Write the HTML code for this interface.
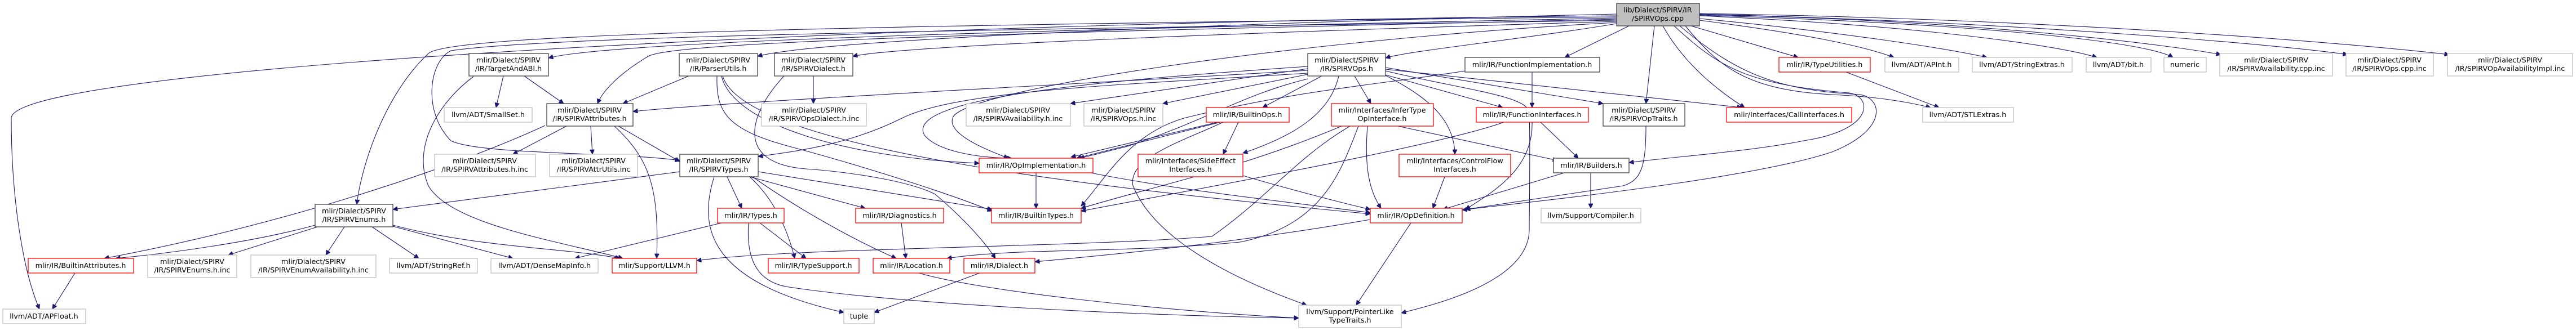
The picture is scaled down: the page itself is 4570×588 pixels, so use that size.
<!DOCTYPE html>
<html><head><meta charset="utf-8"><style>
html,body{margin:0;padding:0;background:#fff;}
svg{display:block;}
text{font-family:"DejaVu Sans","Liberation Sans",sans-serif;font-size:12.7px;fill:#000;text-anchor:middle;}
.e{fill:none;stroke:#191970;stroke-width:1.1;marker-end:url(#a);}
.k{fill:#fff;stroke:#404040;stroke-width:1.3;}
.r{fill:#fff;stroke:#ff0000;stroke-width:1.3;}
.g{fill:#fff;stroke:#bfbfbf;stroke-width:1.3;}
.s{fill:#bfbfbf;stroke:#404040;stroke-width:1.3;}
</style></head><body>
<svg width="4570" height="588" viewBox="0 0 4570 588" xmlns="http://www.w3.org/2000/svg">
<defs><marker id="a" viewBox="0 0 10 10" refX="10" refY="5" markerWidth="10" markerHeight="8" markerUnits="userSpaceOnUse" orient="auto"><path d="M0,0 L10,5 L0,10 z" fill="#191970" stroke="#191970"/></marker></defs>

<!-- edges from SPIRVOps.cpp -->
<path class="e" d="M2868,28 C1500,40 20,120 20,210 C20,350 40,480 70,549"/>
<path class="e" d="M2868,30 C1500,45 800,60 760,95 C680,170 640,300 633,363"/>
<path class="e" d="M2868,32 C2000,50 1100,70 973,103"/>
<path class="e" d="M2868,34 C2000,55 1200,70 1150,100 C1100,130 1070,160 1060,184"/>
<path class="e" d="M2868,36 C2000,50 1000,60 800,90 C760,110 750,200 800,250 C850,275 1100,270 1206,285"/>
<path class="e" d="M2868,25 C2200,40 1450,70 1344,100"/>
<path class="e" d="M2868,38 C2300,55 1600,80 1513,100"/>
<path class="e" d="M2868,40 C2300,70 1700,160 1690,210 C1680,240 1760,270 1789,281"/>
<path class="e" d="M2868,42 C2700,70 2500,90 2458,103"/>
<path class="e" d="M2890,46 L2776,102"/>
<path class="e" d="M2935,46 L2920,184"/>
<path class="e" d="M2950,46 C2980,100 3030,150 3095,191"/>
<path class="e" d="M2970,46 C3050,120 3100,150 3280,165 C3320,170 3330,230 3200,250 C3100,270 2950,280 2890,289"/>
<path class="e" d="M2980,46 C3080,130 3150,160 3300,168 C3340,175 3350,230 3250,270 C3100,320 2700,360 2594,373"/>
<path class="e" d="M2990,46 C3050,120 3100,160 3250,168 C3330,172 3380,180 3425,191"/>
<path class="e" d="M3000,46 L3190,102"/>
<path class="e" d="M3015,36 C3200,60 3300,80 3360,102"/>
<path class="e" d="M3015,33 C3250,55 3450,85 3525,102"/>
<path class="e" d="M3015,28 C3400,45 3650,80 3720,102"/>
<path class="e" d="M3015,27 C3450,40 3800,70 3855,102"/>
<path class="e" d="M3015,26 C3500,35 3850,80 3940,97"/>
<path class="e" d="M3015,25 C3600,40 4050,80 4165,97"/>
<path class="e" d="M3015,24 C3700,35 4200,80 4345,97"/>

<!-- SPIRVOps.h -->
<path class="e" d="M2320,125 C1900,150 1300,180 1123,198"/>
<path class="e" d="M2320,130 C2000,150 1700,160 1600,210 C1500,260 1400,270 1345,278"/>
<path class="e" d="M2320,118 C2000,140 1600,170 1640,240 C1660,265 1720,280 1795,281"/>
<path class="e" d="M2320,140 C2200,170 2150,210 2000,260 C1960,270 1930,278 1915,281"/>
<path class="e" d="M2320,122 L1899,184"/>
<path class="e" d="M2320,132 L2063,184"/>
<path class="e" d="M2345,135 L2240,191"/>
<path class="e" d="M2375,135 C2360,200 2300,240 2205,272"/>
<path class="e" d="M2403,135 L2432,184"/>
<path class="e" d="M2458,133 L2666,191"/>
<path class="e" d="M2458,120 L2844,184"/>
<path class="e" d="M2458,123 L3090,191"/>
<path class="e" d="M2450,130 C2530,170 2580,210 2581,274"/>
<path class="e" d="M2458,126 C2600,160 2710,170 2713,200 C2715,260 2713,380 2713,410 C2710,500 2550,540 2486,556"/>

<!-- TargetAndABI -->
<path class="e" d="M893,135 L880,191"/>
<path class="e" d="M930,135 L1000,184"/>
<path class="e" d="M840,136 C780,180 730,260 760,330 C800,400 1000,430 1105,459"/>
<!-- SPIRVAttributes -->
<path class="e" d="M967,223 C800,300 500,400 185,459"/>
<path class="e" d="M1005,224 L910,274"/>
<path class="e" d="M1048,224 L1051,274"/>
<path class="e" d="M1097,224 L1206,287"/>
<path class="e" d="M1090,224 C1150,280 1170,330 1165,459"/>
<!-- ParserUtils -->
<path class="e" d="M1222,135 L1105,184"/>
<path class="e" d="M1280,135 C1300,220 1500,280 1737,290"/>
<path class="e" d="M1272,135 C1270,200 1290,230 1400,260 C1550,300 1700,350 1760,375"/>
<path class="e" d="M1282,135 C1320,260 1900,330 2431,380"/>
<!-- SPIRVDialect -->
<path class="e" d="M1443,135 L1443,184"/>
<path class="e" d="M1391,135 C1330,200 1300,290 1430,300 C1500,305 1610,320 1659,345 C1700,380 1740,420 1766,459"/>
<!-- SPIRVTypes -->
<path class="e" d="M1206,305 L697,372"/>
<path class="e" d="M1290,314 L1316,370"/>
<path class="e" d="M1330,314 L1535,370"/>
<path class="e" d="M1345,305 L1760,372"/>
<path class="e" d="M1330,314 C1380,360 1400,420 1410,459"/>
<path class="e" d="M1335,314 C1400,360 1500,420 1590,459"/>
<path class="e" d="M1267,314 C1240,400 1250,500 1497,555"/>
<!-- SPIRVEnums -->
<path class="e" d="M559,400 C450,430 300,450 205,459"/>
<path class="e" d="M563,403 L405,453"/>
<path class="e" d="M611,403 L578,453"/>
<path class="e" d="M660,403 L743,459"/>
<path class="e" d="M697,402 L910,459"/>
<path class="e" d="M697,400 C850,440 1000,440 1100,459"/>
<path class="e" d="M133,485 L93,549"/>
<!-- Types.h -->
<path class="e" d="M1280,396 L1020,459"/>
<path class="e" d="M1348,396 L1430,459"/>
<path class="e" d="M1328,396 C1325,440 1330,500 1400,510 C1600,540 2000,560 2304,565"/>
<path class="e" d="M1599,396 L1607,459"/>
<!-- OpImplementation -->
<path class="e" d="M1838,307 L1838,370"/>
<path class="e" d="M1935,307 C2100,340 2300,360 2431,378"/>
<!-- BuiltinOps -->
<path class="e" d="M2165,217 L1910,281"/>
<path class="e" d="M2160,217 L1900,279"/>
<path class="e" d="M2197,217 L2170,274"/>
<path class="e" d="M2170,217 C2100,250 2000,280 2010,330 C2050,430 2200,500 2318,542"/>
<!-- SideEffect -->
<path class="e" d="M2205,312 C2300,340 2400,365 2431,372"/>
<!-- InferType -->
<path class="e" d="M2380,224 C2200,300 2050,330 1918,370"/>
<path class="e" d="M2426,224 C2420,300 2430,340 2450,370"/>
<path class="e" d="M2410,224 C2380,300 2350,400 2200,430 C2000,450 1800,440 1680,459"/>
<path class="e" d="M2395,224 C2300,280 2250,350 2150,420 C1900,440 1400,440 1236,463"/>
<path class="e" d="M2480,224 L2763,285"/>
<!-- FunctionInterfaces -->
<path class="e" d="M2668,217 C2550,260 2100,340 1918,375"/>
<path class="e" d="M2718,217 C2720,300 2650,340 2600,372"/>
<path class="e" d="M2733,217 L2800,281"/>
<path class="e" d="M2718,128 L2718,191"/>
<path class="e" d="M2599,126 C2450,150 2300,160 2100,210 C2000,240 1960,320 1918,366"/>
<!-- misc -->
<path class="e" d="M2563,314 L2542,370"/>
<path class="e" d="M2775,307 L2560,372"/>
<path class="e" d="M2822,307 L2822,370"/>
<path class="e" d="M2920,224 C2920,300 2910,320 2880,330 C2750,350 2650,365 2600,372"/>
<path class="e" d="M3275,128 L3440,191"/>
<path class="e" d="M2503,396 L2406,542"/>
<path class="e" d="M2431,390 C2200,430 2000,450 1836,465"/>
<path class="e" d="M1630,485 C1750,520 2100,555 2304,565"/>
<path class="e" d="M1738,485 L1551,555"/>

<!-- nodes -->
<rect class="s" x="2868" y="6" width="147" height="40"/><text x="2941" y="22">lib/Dialect/SPIRV/IR</text><text x="2941" y="37">/SPIRVOps.cpp</text>

<rect class="k" x="832" y="95" width="141" height="40"/><text x="902" y="111">mlir/Dialect/SPIRV</text><text x="902" y="126">/IR/TargetAndABI.h</text>
<rect class="k" x="1205" y="95" width="139" height="40"/><text x="1274" y="111">mlir/Dialect/SPIRV</text><text x="1274" y="126">/IR/ParserUtils.h</text>
<rect class="k" x="1374" y="95" width="139" height="40"/><text x="1443" y="111">mlir/Dialect/SPIRV</text><text x="1443" y="126">/IR/SPIRVDialect.h</text>
<rect class="k" x="2320" y="95" width="138" height="40"/><text x="2389" y="111">mlir/Dialect/SPIRV</text><text x="2389" y="126">/IR/SPIRVOps.h</text>
<rect class="k" x="2599" y="102" width="239" height="26"/><text x="2718" y="119">mlir/IR/FunctionImplementation.h</text>
<rect class="r" x="3156" y="102" width="162" height="26"/><text x="3237" y="119">mlir/IR/TypeUtilities.h</text>
<rect class="g" x="3344" y="102" width="131" height="26"/><text x="3409" y="119">llvm/ADT/APInt.h</text>
<rect class="g" x="3499" y="102" width="177" height="26"/><text x="3587" y="119">llvm/ADT/StringExtras.h</text>
<rect class="g" x="3701" y="102" width="115" height="26"/><text x="3758" y="119">llvm/ADT/bit.h</text>
<rect class="g" x="3839" y="102" width="75" height="26"/><text x="3876" y="119">numeric</text>
<rect class="g" x="3938" y="95" width="200" height="40"/><text x="4038" y="111">mlir/Dialect/SPIRV</text><text x="4038" y="126">/IR/SPIRVAvailability.cpp.inc</text>
<rect class="g" x="4162" y="95" width="155" height="40"/><text x="4239" y="111">mlir/Dialect/SPIRV</text><text x="4239" y="126">/IR/SPIRVOps.cpp.inc</text>
<rect class="g" x="4342" y="95" width="222" height="40"/><text x="4453" y="111">mlir/Dialect/SPIRV</text><text x="4453" y="126">/IR/SPIRVOpAvailabilityImpl.inc</text>

<rect class="g" x="788" y="191" width="156" height="26"/><text x="866" y="208">llvm/ADT/SmallSet.h</text>
<rect class="k" x="970" y="184" width="153" height="40"/><text x="1046" y="200">mlir/Dialect/SPIRV</text><text x="1046" y="215">/IR/SPIRVAttributes.h</text>
<rect class="g" x="1351" y="184" width="186" height="40"/><text x="1444" y="200">mlir/Dialect/SPIRV</text><text x="1444" y="215">/IR/SPIRVOpsDialect.h.inc</text>
<rect class="g" x="1714" y="184" width="185" height="40"/><text x="1806" y="200">mlir/Dialect/SPIRV</text><text x="1806" y="215">/IR/SPIRVAvailability.h.inc</text>
<rect class="g" x="1923" y="184" width="140" height="40"/><text x="1993" y="200">mlir/Dialect/SPIRV</text><text x="1993" y="215">/IR/SPIRVOps.h.inc</text>
<rect class="r" x="2140" y="191" width="147" height="26"/><text x="2213" y="208">mlir/IR/BuiltinOps.h</text>
<rect class="r" x="2362" y="184" width="181" height="40"/><text x="2452" y="200">mlir/Interfaces/InferType</text><text x="2452" y="215">OpInterface.h</text>
<rect class="r" x="2619" y="191" width="199" height="26"/><text x="2718" y="208">mlir/IR/FunctionInterfaces.h</text>
<rect class="k" x="2844" y="184" width="145" height="40"/><text x="2916" y="200">mlir/Dialect/SPIRV</text><text x="2916" y="215">/IR/SPIRVOpTraits.h</text>
<rect class="r" x="3063" y="191" width="222" height="26"/><text x="3174" y="208">mlir/Interfaces/CallInterfaces.h</text>
<rect class="g" x="3411" y="191" width="161" height="26"/><text x="3491" y="208">llvm/ADT/STLExtras.h</text>

<rect class="g" x="771" y="274" width="179" height="40"/><text x="860" y="290">mlir/Dialect/SPIRV</text><text x="860" y="305">/IR/SPIRVAttributes.h.inc</text>
<rect class="g" x="975" y="274" width="156" height="40"/><text x="1053" y="290">mlir/Dialect/SPIRV</text><text x="1053" y="305">/IR/SPIRVAttrUtils.inc</text>
<rect class="k" x="1206" y="274" width="139" height="40"/><text x="1275" y="290">mlir/Dialect/SPIRV</text><text x="1275" y="305">/IR/SPIRVTypes.h</text>
<rect class="r" x="1737" y="281" width="202" height="26"/><text x="1838" y="298">mlir/IR/OpImplementation.h</text>
<rect class="r" x="2019" y="274" width="186" height="40"/><text x="2112" y="290">mlir/Interfaces/SideEffect</text><text x="2112" y="305">Interfaces.h</text>
<rect class="r" x="2482" y="274" width="198" height="40"/><text x="2581" y="290">mlir/Interfaces/ControlFlow</text><text x="2581" y="305">Interfaces.h</text>
<rect class="k" x="2756" y="281" width="134" height="26"/><text x="2823" y="298">mlir/IR/Builders.h</text>

<rect class="k" x="559" y="363" width="138" height="40"/><text x="628" y="379">mlir/Dialect/SPIRV</text><text x="628" y="394">/IR/SPIRVEnums.h</text>
<rect class="r" x="1273" y="370" width="118" height="26"/><text x="1332" y="387">mlir/IR/Types.h</text>
<rect class="r" x="1518" y="370" width="156" height="26"/><text x="1596" y="387">mlir/IR/Diagnostics.h</text>
<rect class="r" x="1759" y="370" width="159" height="26"/><text x="1838" y="387">mlir/IR/BuiltinTypes.h</text>
<rect class="r" x="2431" y="370" width="163" height="26"/><text x="2512" y="387">mlir/IR/OpDefinition.h</text>
<rect class="g" x="2734" y="370" width="177" height="26"/><text x="2822" y="387">llvm/Support/Compiler.h</text>

<rect class="r" x="50" y="459" width="187" height="26"/><text x="143" y="476">mlir/IR/BuiltinAttributes.h</text>
<rect class="g" x="262" y="453" width="158" height="40"/><text x="341" y="469">mlir/Dialect/SPIRV</text><text x="341" y="484">/IR/SPIRVEnums.h.inc</text>
<rect class="g" x="445" y="453" width="222" height="40"/><text x="556" y="469">mlir/Dialect/SPIRV</text><text x="556" y="484">/IR/SPIRVEnumAvailability.h.inc</text>
<rect class="g" x="691" y="459" width="156" height="26"/><text x="769" y="476">llvm/ADT/StringRef.h</text>
<rect class="g" x="871" y="459" width="190" height="26"/><text x="966" y="476">llvm/ADT/DenseMapInfo.h</text>
<rect class="r" x="1086" y="459" width="150" height="26"/><text x="1161" y="476">mlir/Support/LLVM.h</text>
<rect class="r" x="1363" y="459" width="161" height="26"/><text x="1443" y="476">mlir/IR/TypeSupport.h</text>
<rect class="r" x="1549" y="459" width="136" height="26"/><text x="1617" y="476">mlir/IR/Location.h</text>
<rect class="r" x="1710" y="459" width="126" height="26"/><text x="1773" y="476">mlir/IR/Dialect.h</text>

<rect class="g" x="5" y="549" width="147" height="26"/><text x="78" y="566">llvm/ADT/APFloat.h</text>
<rect class="g" x="1497" y="549" width="54" height="26"/><text x="1524" y="566">tuple</text>
<rect class="g" x="2304" y="542" width="182" height="40"/><text x="2395" y="558">llvm/Support/PointerLike</text><text x="2395" y="573">TypeTraits.h</text>
</svg>
</body></html>
